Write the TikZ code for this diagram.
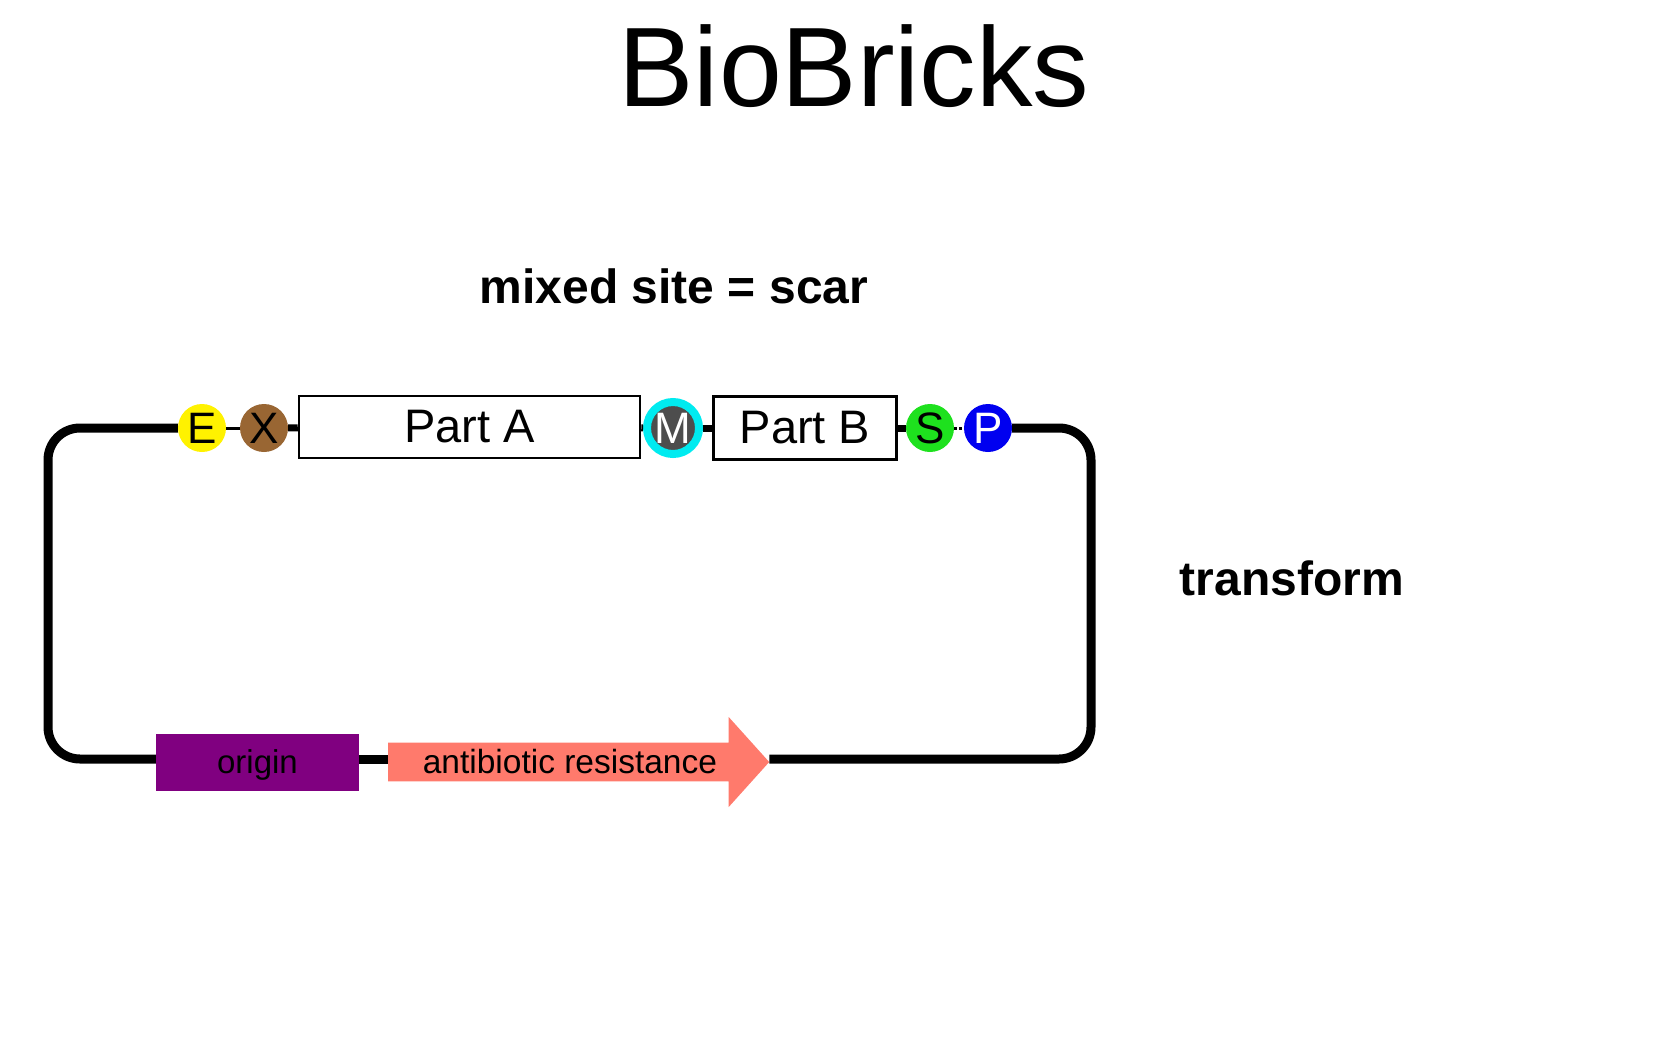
\documentclass[tikz,border=0pt]{standalone}
\usepackage{fontspec}
\setmainfont{Liberation Sans}
\usetikzlibrary{shapes.arrows}
\definecolor{sitebrown}{RGB}{153,102,51}
\definecolor{sitegreen}{RGB}{30,225,30}
\definecolor{siteblue}{RGB}{0,0,240}
\definecolor{ringcyan}{RGB}{0,235,240}
\definecolor{mgray}{RGB}{77,77,77}
\definecolor{oripurple}{RGB}{128,0,128}
\definecolor{salmonres}{RGB}{255,122,108}

\begin{document}
\begin{tikzpicture}[
    x=1pt, y=-1pt,
    site/.style={circle, minimum size=48pt, inner sep=0pt, font=\fontsize{44}{44}\selectfont},
    part/.style={draw, line width=2.5pt, rectangle, inner sep=0pt, font=\fontsize{47}{47}\selectfont},
    backbone/.style={line width=9pt, rounded corners=32pt},
    link/.style={line width=7pt},
    thinlink/.style={line width=3pt},
    note/.style={font=\bfseries\fontsize{48}{48}\selectfont}
]
  \useasboundingbox (0,0) rectangle (1680,1050);

  % Titles
  \node[font=\fontsize{113}{113}\selectfont] (title) at (854,66) {BioBricks};
  \node[note] (scar) at (674,286) {mixed site = scar};
  \node[note] (transform) at (1292,578) {transform};

  % Restriction sites and parts
  \node[site, fill=yellow] (E) at (202,428) {E};
  \node[site, fill=sitebrown] (X) at (264,428) {X};
  \node[part, minimum width=341pt, minimum height=62pt] (partA) at (469.5,427) {Part A};
  \node[site, fill=mgray, draw=ringcyan, line width=8pt, minimum size=52pt, text=white] (M) at (673,428) {M};
  \node[part, minimum width=183pt, minimum height=63pt] (partB) at (805,428) {Part B};
  \node[site, fill=sitegreen] (S) at (930,428) {S};
  \node[site, fill=siteblue, text=white] (P) at (988,428) {P};

  % Plasmid backbone parts
  \node[fill=oripurple, minimum width=203pt, minimum height=57pt, inner sep=0pt, text depth=0pt,
        font=\fontsize{33}{33}\selectfont] (origin) at (257.5,762) {origin};
  \node[single arrow, fill=salmonres, anchor=tail, minimum height=381pt, minimum width=90pt,
        single arrow head extend=16.5pt, single arrow tip angle=96, inner sep=0pt,
        font=\fontsize{33.5}{34}\selectfont] (res) at (388,762) {antibiotic resistance};

  % Corners of the loop
  \coordinate (bl) at (48,759);
  \coordinate (br) at (1091,759);

  % Connections
  \draw[thinlink] (E) -- (X);
  \draw[link] (X) -- (partA);
  \draw[link] (partA) -- (M);
  \draw[link] (M) -- (partB);
  \draw[link] (partB) -- (S);
  \draw[thinlink, dotted] (S) -- (P);
  \draw[backbone] (E.west) -| (bl) -- (origin.west |- bl);
  \draw[link, line width=9pt] (origin.east |- bl) -- (res.tail |- bl);
  \draw[backbone] (P.east) -| (br) -- (res.tip |- bl);
\end{tikzpicture}
\end{document}
